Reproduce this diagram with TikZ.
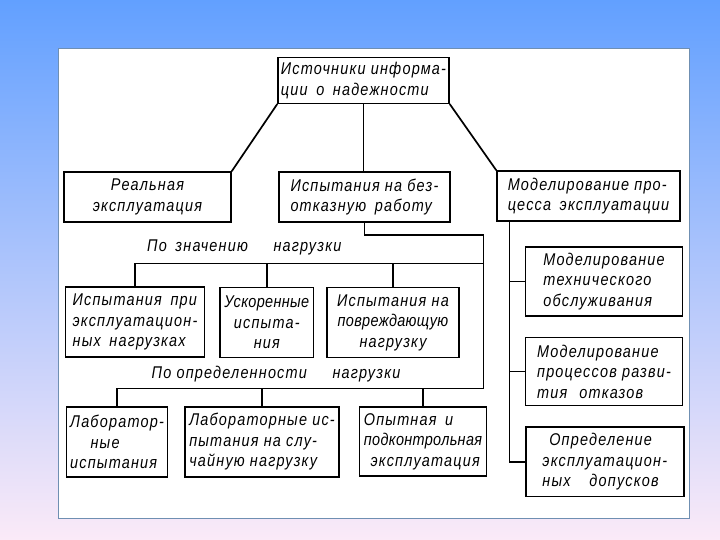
\documentclass[tikz,border=0pt]{standalone}
\usepackage{fontspec}
\usepackage{tikz}
\usetikzlibrary{calc}
\newfontfamily\handfont{Liberation Sans}[LetterSpace=7, FakeStretch=0.85, UprightFont=* Italic]
\newfontfamily\handtight{Liberation Sans}[LetterSpace=2, FakeStretch=0.85, UprightFont=* Italic]
\definecolor{skytop}{HTML}{62A0FF}
\definecolor{skymid}{HTML}{A9C9F2}
\definecolor{skybot}{HTML}{FBEAF8}
\definecolor{panelrim}{HTML}{6F8FB2}

\begin{document}
\begin{tikzpicture}[x=1pt,y=-1pt]
  \tikzstyle{blk}=[draw, line width=1.5pt, inner sep=0pt,
    font=\handfont\fontsize{17}{20.5}\selectfont]
  \tikzstyle{wire}=[line width=1.7pt]
  \tikzstyle{tag}=[anchor=west, inner sep=0pt,
    font=\handfont\fontsize{17}{20.5}\selectfont]

  % background and sheet
  \useasboundingbox (0,0) rectangle (720,540);
  \shade[top color=skytop, middle color=skymid, bottom color=skybot]
    (0,0) rectangle (720,540);
  \draw[panelrim, line width=1.2pt, fill=white] (58.5,48.5) rectangle (689.5,518.5);

  % top level
  \node[blk, minimum width=171pt, minimum height=46pt, align=left] (src) at (363.5,80.3)
    {Источники информа-\\ции\hspace{0.2em} о\hspace{0.2em} надежности};
  \node[blk, minimum width=167pt, minimum height=50pt, align=center] (real) at (147.5,197)
    {Реальная\\эксплуатация};
  \node[blk, minimum width=171pt, minimum height=50pt, align=left] (tests) at (364.5,197)
    {Испытания на без-\\отказную\hspace{0.2em} работу};
  \node[blk, minimum width=183pt, minimum height=50pt, align=left] (model) at (588.5,196)
    {Моделирование про-\\цесса\hspace{0.2em} эксплуатации};

  % by load value
  \node[tag] (byval) at (147,247) {По\hspace{0.2em} значению\hspace{1.2em} нагрузки};
  \node[blk, minimum width=139pt, minimum height=70pt, align=left] (opA) at (135,322)
    {Испытания\hspace{0.2em} при\\эксплуатацион-\\ных\hspace{0.2em} нагрузках};
  \node[blk, minimum width=93.6pt, minimum height=70pt, align=center] (opB) at (266.8,322.5)
    {{\handtight Ускоренные}\\испыта-\\ния};
  \node[blk, minimum width=132pt, minimum height=70pt, align=center] (opC) at (393,322.5)
    {Испытания на\\{\handtight повреждающую}\\нагрузку};

  % by load certainty
  \node[tag] (bycert) at (151.5,373.6) {По определенности\hspace{1.2em} нагрузки};
  \node[blk, minimum width=101pt, minimum height=70pt, align=left] (labA) at (117,442)
    {Лаборатор-\\\hspace*{1.2em}ные\\испытания};
  \node[blk, minimum width=154pt, minimum height=70pt, align=left] (labB) at (262,442)
    {Лабораторные ис-\\пытания на слу-\\чайную нагрузку};
  \node[blk, minimum width=127pt, minimum height=69pt, align=left] (labC) at (423,441.5)
    {Опытная\hspace{0.2em} и\\{\handtight подконтрольная}\\\hspace*{0.4em}эксплуатация};

  % modelling branch
  \node[blk, minimum width=157pt, minimum height=69pt, align=left] (mA) at (604,281.5)
    {Моделирование\\технического\\обслуживания};
  \node[blk, minimum width=157pt, minimum height=68pt, align=left] (mB) at (604,371.5)
    {Моделирование\\процессов разви-\\тия\hspace{0.4em} отказов};
  \node[blk, minimum width=158pt, minimum height=69.5pt, align=left] (mC) at (604.8,461.7)
    {\hspace*{0.4em}Определение\\эксплуатацион-\\ных\hspace{0.8em} допусков};

  \coordinate (k1) at (483.5,263.4);
  \coordinate (k2) at (483.5,388.4);
  \coordinate (rt) at (509.6,221);

  % connectors
  \draw[wire] (src.south west) -- (real.north east);
  \draw[wire] (src.south) -- (src.south |- tests.north);
  \draw[wire] (src.south east) -- (model.north west);

  \draw[wire] (tests.south) -- ++(0,12) -| (k2);
  \draw[wire] (opA.north) |- (k1);
  \draw[wire] (opB.north) -- (opB.north |- k1);
  \draw[wire] (opC.north) -- (opC.north |- k1);
  \draw[wire] (labA.north) |- (k2);
  \draw[wire] (labB.north) -- (labB.north |- k2);
  \draw[wire] (labC.north) -- (labC.north |- k2);

  \draw[wire] (rt) |- (mC.west);
  \draw[wire] (rt |- mA.west) -- (mA.west);
  \draw[wire] (rt |- mB.west) -- (mB.west);
\end{tikzpicture}
\end{document}
